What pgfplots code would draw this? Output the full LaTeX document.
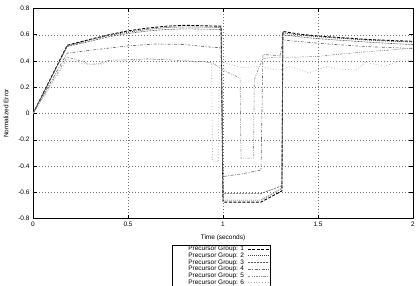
\documentclass[border=0pt]{standalone}
\usepackage{pgfplots}
\pgfplotsset{compat=1.18}
\usepackage{fontspec}
\setmainfont{Liberation Sans}
\newcommand{\smallf}{\fontsize{6.5}{6.5}\selectfont}
\newcommand{\legtxt}[1]{\makebox[70bp][r]{#1}}
\begin{document}
\begin{tikzpicture}
\begin{axis}[
  name=ax, scale only axis, width=380bp, height=210bp,
  xmin=0, xmax=2, ymin=-0.8, ymax=0.8,
  xtick={0,0.5,1,1.5,2},
  ytick={-0.8,-0.6,-0.4,-0.2,0,0.2,0.4,0.6,0.8},
  /pgf/number format/assume math mode=true,
  ticklabel style={font=\smallf},
  tick align=inside, major tick length=4bp,
  tick style={black, line width=0.5pt},
  axis line style={black, line width=1pt},
  grid=major,
  major grid style={black!55, line width=0.4pt, dash pattern=on 1bp off 2bp},
  xlabel={Time (seconds)},
  ylabel={Normalized Error},
  label style={font=\smallf},
  xlabel style={at={(axis description cs:0.5,-0.0905)}, anchor=center},
  ylabel style={at={(axis description cs:-0.071,0.5)}, anchor=center},
  title={Precursor Group Concentration Error, Locally Normalized error vs. Max Precursor Group Concentration Error Position},
  title style={font=\smallf, at={(axis description cs:0.5,1)}, anchor=base, yshift=6bp},
  legend plot pos=right,
  legend cell align=right,
  legend image code/.code={\draw[#1] (0bp,0bp) -- (21bp,0bp);},
  legend style={at={(axis description cs:0.496,-0.126)}, anchor=north,
    font=\smallf, draw=black, line width=0.5pt, inner xsep=1bp, inner ysep=0.5bp,
    column sep=3bp,
    nodes={inner ysep=0.3bp, inner xsep=0.5bp, text height=4.8bp, text depth=1.3bp}},
]
\addplot[black, line width=0.9pt, dash pattern=on 3bp off 1.5bp] coordinates {
(0,0) (0.18,0.52) (0.3,0.565) (0.4,0.60) (0.5,0.63) (0.6,0.65) (0.7,0.665) (0.8,0.672) (0.9,0.668) (0.99,0.665)
(1.0,-0.675) (1.1,-0.675) (1.2,-0.675) (1.31,-0.59) (1.315,0.625) (1.4,0.605) (1.5,0.59) (1.6,0.58) (1.75,0.565) (1.9,0.555) (2.0,0.55)};
\addlegendentry{\legtxt{Precursor Group: 1}}
\addplot[black!75, line width=0.7pt, dash pattern=on 1bp off 1bp] coordinates {
(0,0) (0.18,0.515) (0.3,0.56) (0.4,0.595) (0.5,0.62) (0.6,0.64) (0.7,0.655) (0.8,0.66) (0.9,0.658) (0.99,0.655)
(1.0,-0.66) (1.1,-0.66) (1.2,-0.66) (1.31,-0.57) (1.315,0.615) (1.4,0.598) (1.5,0.585) (1.6,0.575) (1.75,0.56) (1.9,0.55) (2.0,0.545)};
\addlegendentry{\legtxt{Precursor Group: 2}}
\addplot[black!65, line width=0.6pt, dash pattern=on 2bp off 1bp] coordinates {
(0,0) (0.18,0.51) (0.3,0.55) (0.4,0.585) (0.5,0.61) (0.6,0.628) (0.7,0.64) (0.8,0.645) (0.9,0.643) (0.99,0.64)
(1.0,-0.61) (1.1,-0.61) (1.2,-0.61) (1.31,-0.55) (1.315,0.60) (1.4,0.585) (1.5,0.57) (1.6,0.56) (1.75,0.545) (1.9,0.532) (2.0,0.525)};
\addlegendentry{\legtxt{Precursor Group: 3}}
\addplot[black!60, line width=0.6pt, dash pattern=on 3bp off 1.5bp on 0.8bp off 1.5bp] coordinates {
(0,0) (0.18,0.46) (0.35,0.49) (0.5,0.515) (0.65,0.53) (0.8,0.525) (0.9,0.51) (0.99,0.50)
(1.0,-0.48) (1.1,-0.46) (1.2,-0.43) (1.21,0.45) (1.3,0.44) (1.315,0.56) (1.5,0.535) (1.75,0.51) (2.0,0.495)};
\addlegendentry{\legtxt{Precursor Group: 4}}
\addplot[black!45, line width=0.6pt, dash pattern=on 2.5bp off 1.2bp on 0.8bp off 1.2bp on 0.8bp off 1.2bp] coordinates {
(0,0) (0.18,0.43) (0.25,0.40) (0.3,0.375) (0.35,0.38) (0.4,0.405) (0.5,0.41) (0.6,0.415) (0.7,0.41) (0.8,0.40) (0.9,0.395) (0.95,0.38)
(1.0,0.33) (1.09,0.27) (1.095,-0.34) (1.16,-0.34) (1.165,0.26) (1.21,0.42) (1.3,0.43) (1.4,0.43) (1.5,0.435) (1.6,0.45) (1.75,0.47) (1.9,0.485) (2.0,0.50)};
\addlegendentry{\legtxt{Precursor Group: 5}}
\addplot[black!35, line width=0.6pt, dash pattern=on 0.8bp off 2bp] coordinates {
(0,0) (0.18,0.41) (0.25,0.385) (0.3,0.37) (0.35,0.37) (0.4,0.40) (0.45,0.395) (0.5,0.41) (0.55,0.40) (0.6,0.42) (0.65,0.41) (0.7,0.42) (0.75,0.40) (0.8,0.41) (0.85,0.39) (0.9,0.40) (0.94,0.385)
(0.945,-0.36) (0.975,-0.37) (0.98,0.36) (1.0,0.39) (1.05,0.37) (1.1,0.35) (1.2,0.36) (1.25,0.34) (1.3,0.33) (1.35,0.36) (1.45,0.31) (1.55,0.36) (1.6,0.34) (1.7,0.33) (1.75,0.39) (1.85,0.36) (1.95,0.41) (2.0,0.40)};
\addlegendentry{\legtxt{Precursor Group: 6}}
\end{axis}
\pgfresetboundingbox
\path[use as bounding box] ([xshift=-33bp,yshift=-67.5bp]ax.south west) rectangle ([xshift=7bp,yshift=8.5bp]ax.north east);
\end{tikzpicture}
\end{document}
